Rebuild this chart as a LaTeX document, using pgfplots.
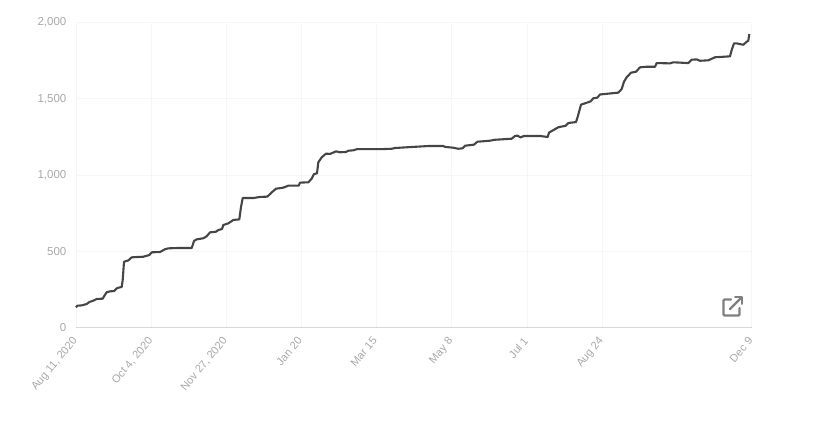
\documentclass[border=0pt]{standalone}
\usepackage{pgfplots}
\pgfplotsset{compat=1.18}
\usepackage{fontspec}
\setmainfont{Liberation Sans}
\definecolor{ticktxt}{HTML}{A8A8A8}
\definecolor{gridc}{HTML}{F6F6F6}
\definecolor{axisc}{HTML}{D8D8D8}
\definecolor{linec}{HTML}{454545}
\definecolor{iconc}{HTML}{7F7F7F}
\begin{document}
\begin{tikzpicture}[x=1pt,y=1pt]
\useasboundingbox (0,0) rectangle (813,436);
\begin{axis}[
  at={(76pt,108.5pt)}, anchor=south west,
  scale only axis, width=675.5pt, height=305pt,
  xmin=76, xmax=751.5, ymin=0, ymax=2000,
  axis y line=left, axis x line=bottom,
  axis line style={-, draw=none},
  x axis line style={-, draw=axisc, line width=1.8pt},
  y axis line style={-, draw=gridc, line width=0.8pt},
  xtick={76,151.5,226,301,376,451.5,527,602,751.5},
  xticklabels={{Aug 11, 2020},{Oct 4, 2020},{Nov 27, 2020},{Jan 20},{Mar 15},{May 8},{Jul 1},{Aug 24},{Dec 9}},
  ytick={0,500,1000,1500,2000},
  yticklabels={0,500,{1,000},{1,500},{2,000}},
  grid=major, grid style={draw=gridc, line width=0.8pt},
  major tick length=0pt,
  tick style={draw=none},
  xticklabel style={rotate=50, anchor=north east, font=\fontsize{11}{13}\selectfont, text=ticktxt, inner sep=0pt, yshift=-2.2pt, xshift=-9.2pt},
  yticklabel style={font=\fontsize{11.5}{13}\selectfont, text=ticktxt, inner sep=0pt, xshift=-9.5pt},
  clip=false,
]
\addplot[linec, line width=2.1pt, line join=round, no markers] coordinates {
(76,132)(77.3,143)(81.7,145)(86.7,154)(89.3,167)(93.3,176)(96.7,187)(102.7,189)(104.3,207)(106.7,231)(110,237)(114,239)(117.3,259)(121.7,266)(122.7,311)(124,431)(128.3,440)(131.7,460)(136.7,462)(143.3,464)(149.3,475)(151.7,493)(160,495)(165,513)(168.3,519)(176.7,521)(185,521)(191.7,521)(194,567)(196.7,578)(203.3,585)(206.7,598)(210,624)(216,628)(218.3,639)(222,646)(223.3,672)(228.3,683)(233.3,705)(239.3,709)(241,790)(242.7,849)(253.3,849)(260,856)(267.3,858)(271.7,886)(276,910)(283.3,917)(288.3,930)(298.7,930)(300,950)(308.3,952)(311.7,976)(314,1006)(317,1011)(318.3,1083)(321.7,1116)(326,1140)(330,1138)(336,1155)(340,1149)(346,1151)(348.3,1159)(353.3,1162)(357.3,1170)(383.3,1170)(391.7,1172)(395,1177)(400,1179)(428.3,1190)(443.3,1190)(445,1184)(453.3,1179)(458.3,1172)(462.7,1175)(465,1192)(474,1199)(477.3,1218)(490,1225)(495,1231)(511.7,1238)(515,1256)(517.3,1258)(520.7,1247)(524,1256)(540,1256)(547.7,1249)(549,1278)(558.3,1313)(565.7,1323)(568.3,1341)(576,1347)(577.7,1382)(581,1461)(590.7,1483)(593.3,1503)(597.3,1507)(600,1528)(618.3,1540)(621.7,1564)(624,1612)(626.7,1641)(631,1671)(636,1677)(640,1706)(646.7,1710)(655,1710)(656.7,1734)(670,1732)(673.3,1739)(688.3,1734)(691.7,1756)(696.7,1758)(700,1749)(708.3,1752)(715,1772)(730,1778)(731.7,1820)(734,1863)(736.7,1863)(743.3,1854)(746.7,1874)(748.3,1881)(749.3,1924)
};
\end{axis}
% external-link icon
\begin{scope}[shift={(0,436)}, y=-1pt, draw=iconc, line width=2.4pt, line cap=round, line join=round]
\draw (731,299.5) -- (724.5,299.5) -- (723.5,300.5) -- (723.5,314.5) -- (724.5,315.5) -- (738.5,315.5) -- (739.5,314.5) -- (739.5,308);
\draw[line width=2.2pt] (730,309) -- (740,299);
\draw[line width=2pt] (735,297.5) -- (741.5,297.5) -- (741.5,304);
\end{scope}
\end{tikzpicture}
\end{document}
